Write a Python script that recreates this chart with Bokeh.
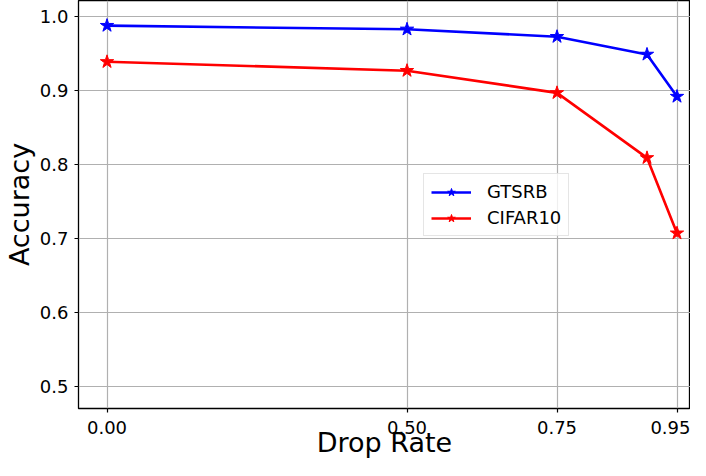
from bokeh.plotting import figure
from bokeh.models import Legend, LegendItem, FixedTicker, Range1d
from bokeh.embed import file_html
from bokeh.resources import INLINE

drop_rate = [0.0, 0.5, 0.75, 0.9, 0.95]
gtsrb = [0.988, 0.983, 0.973, 0.949, 0.892]
cifar10 = [0.939, 0.927, 0.897, 0.809, 0.707]
x_ticks = [0.0, 0.5, 0.75, 0.95]
x_tick_labels = {0.0: "0.00", 0.5: "0.50", 0.75: "0.75", 0.95: "0.95"}
y_ticks = [0.5, 0.6, 0.7, 0.8, 0.9, 1.0]
y_tick_labels = {0.5: "0.5", 0.6: "0.6", 0.7: "0.7", 0.8: "0.8", 0.9: "0.9", 1.0: "1.0"}

FONT = "DejaVu Sans"

p = figure(width=690, height=460, output_backend="svg", toolbar_location=None,
           x_range=Range1d(-0.0475, 0.9725), y_range=Range1d(0.4697, 1.022),
           min_border_left=0, min_border_right=0, min_border_top=0, min_border_bottom=0)

p.outline_line_color = "black"
p.outline_line_width = 1.3
p.background_fill_color = "white"
p.border_fill_color = "white"

for ax in (p.xaxis[0], p.yaxis[0]):
    ax.axis_line_color = None
    ax.major_tick_in = 0
    ax.major_tick_out = 4
    ax.major_tick_line_width = 1.2
    ax.minor_tick_line_color = None
    ax.major_label_text_font = FONT
    ax.major_label_text_font_size = "18px"
    ax.major_label_text_color = "black"
    ax.axis_label_text_font = FONT
    ax.axis_label_text_font_size = "27px"
    ax.axis_label_text_font_style = "normal"
    ax.axis_label_text_color = "black"

p.xaxis.ticker = FixedTicker(ticks=x_ticks)
p.xaxis.major_label_overrides = x_tick_labels
p.yaxis.ticker = FixedTicker(ticks=y_ticks)
p.yaxis.major_label_overrides = y_tick_labels
p.xaxis.axis_label = "Drop Rate"
p.yaxis.axis_label = "Accuracy"
p.xaxis.major_label_standoff = 8
p.yaxis.major_label_standoff = 6
p.xaxis.axis_label_standoff = -10
p.yaxis.axis_label_standoff = 2

p.xgrid.grid_line_color = "#b0b0b0"
p.ygrid.grid_line_color = "#b0b0b0"
p.xgrid.grid_line_width = 1.2
p.ygrid.grid_line_width = 1.2

l1 = p.line(drop_rate, gtsrb, line_color="#0000ff", line_width=2.6)
s1 = p.scatter(drop_rate, gtsrb, marker="star", size=14, fill_color="#0000ff", line_color="#0000ff")
l2 = p.line(drop_rate, cifar10, line_color="#ff0000", line_width=2.6)
s2 = p.scatter(drop_rate, cifar10, marker="star", size=14, fill_color="#ff0000", line_color="#ff0000")

legend = Legend(items=[LegendItem(label="GTSRB", renderers=[l1, s1]),
                       LegendItem(label="CIFAR10", renderers=[l2, s2])],
                location=(345, 172))
legend.label_text_font = FONT
legend.label_text_font_size = "18px"
legend.label_text_color = "black"
legend.glyph_width = 40
legend.glyph_height = 20
legend.spacing = 5
legend.padding = 7
legend.margin = 0
legend.label_standoff = 16
legend.border_line_color = "#cccccc"
legend.border_line_width = 1.2
legend.background_fill_alpha = 0.8
p.add_layout(legend, "center")

open("out.html", "w").write(file_html(p, INLINE))
